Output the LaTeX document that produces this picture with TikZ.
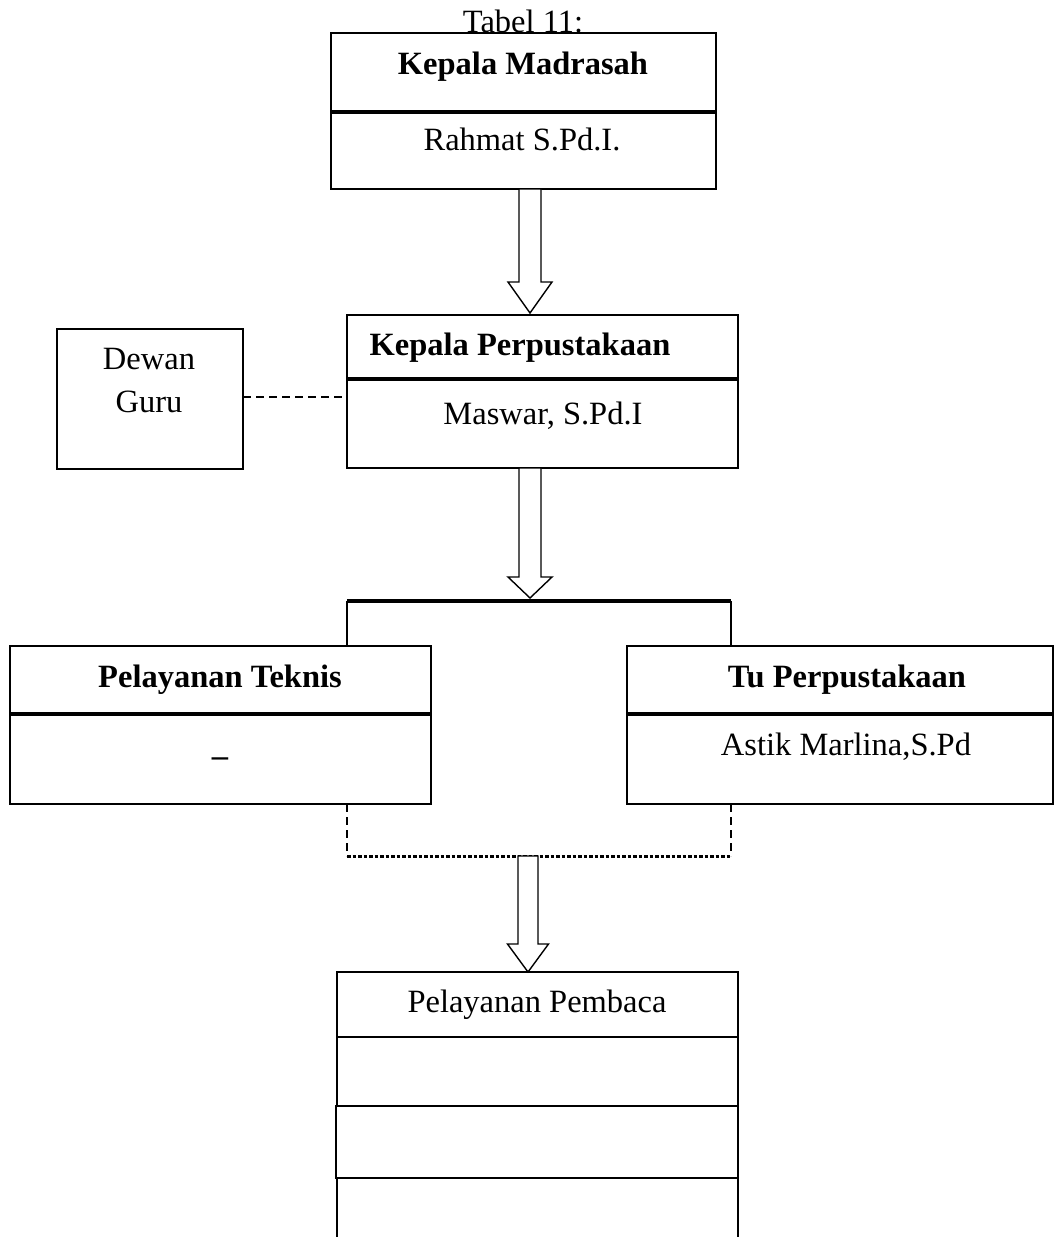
\documentclass[tikz,border=0pt]{standalone}
\usepackage{fontspec}
\setmainfont{Liberation Serif}
\usetikzlibrary{calc}
\tikzset{
  box/.style={draw, line width=1.4pt, rectangle, inner sep=0pt, outer sep=0pt, anchor=north west},
  divider/.style={line width=3.2pt},
  txt/.style={anchor=base, inner sep=0pt, font=\fontsize{32.5}{39}\selectfont},
  btxt/.style={txt, font=\fontsize{32.5}{39}\selectfont\bfseries},
  blk/.style={draw, line width=1.4pt, fill=white, line join=miter},
  link/.style={line width=1.4pt},
  dashlink/.style={line width=1.4pt, dash pattern=on 8pt off 5pt},
  dotlink/.style={line width=3pt, dash pattern=on 3.5pt off 2pt},
}
\newcommand{\blockarrow}[5]{% top, tip, shaft half, head half, head length
  \draw[blk] ([xshift=-#3pt]#1) -- ([xshift=-#3pt,yshift=#5pt]#2) -- ([xshift=-#4pt,yshift=#5pt]#2) -- (#2)
    -- ([xshift=#4pt,yshift=#5pt]#2) -- ([xshift=#3pt,yshift=#5pt]#2) -- ([xshift=#3pt]#1) -- cycle;}
\begin{document}
\begin{tikzpicture}[x=1pt,y=-1pt]
\useasboundingbox (0,0) rectangle (1055,1237);

% boxes
\node[box, minimum width=385pt, minimum height=156pt] (km) at (331,33) {};
\node[box, minimum width=391pt, minimum height=153pt] (kp) at (347,315) {};
\node[box, minimum width=186pt, minimum height=140pt] (dg) at (57,329) {};
\node[box, minimum width=421pt, minimum height=158pt] (pt) at (10,646) {};
\node[box, minimum width=426pt, minimum height=158pt] (tu) at (627,646) {};
\node[box, minimum width=401pt, minimum height=65pt] (r1) at (337,972) {};
\node[box, minimum width=401pt, minimum height=69pt] (r2) at (337,1037) {};
\node[box, minimum width=402pt, minimum height=72pt] (r3) at (336,1106) {};
\node[box, minimum width=401pt, minimum height=90pt] (r4) at (337,1178) {};

% dividers
\draw[divider] (km.west |- 0,112) -- (km.east |- 0,112);
\draw[divider] (kp.west |- 0,379) -- (kp.east |- 0,379);
\draw[divider] (pt.west |- 0,714) -- (pt.east |- 0,714);
\draw[divider] (tu.west |- 0,714) -- (tu.east |- 0,714);

% texts
\node[txt] (tab) at (523,32) {Tabel 11:};
\node[btxt] (kmt) at (523,74) {Kepala Madrasah};
\node[txt] (kmn) at (522,150) {Rahmat S.Pd.I.};
\node[btxt] (kpt) at (520,355) {Kepala Perpustakaan};
\node[txt] (kpn) at (543,424) {Maswar, S.Pd.I};
\node[txt] (dg1) at (149,369) {Dewan};
\node[txt] (dg2) at (149,412) {Guru};
\node[btxt] (ptt) at (220,687) {Pelayanan Teknis};
\node[btxt] (ptn) at (220,766) {–};
\node[btxt] (tut) at (847,687) {Tu Perpustakaan};
\node[txt] (tun) at (846,755) {Astik Marlina,S.Pd};
\node[txt] (ppt) at (537,1012) {Pelayanan Pembaca};

% Dewan Guru dashed link
\draw[dashlink] (dg.east |- 0,397) -- (kp.west |- 0,397);

% block arrow 1
\coordinate (t1) at (530,189);
\coordinate (h1) at (530,313);
\blockarrow{t1}{h1}{11}{22}{31}

% block arrow 2
\coordinate (t2) at (530,468);
\coordinate (h2) at (530,598);
\blockarrow{t2}{h2}{11}{22}{21}

% branch bar
\coordinate (bl) at (347,601);
\coordinate (br) at (731,601);
\draw[link] (bl) -- (bl |- pt.north);
\draw[link] (br) -- (br |- tu.north);
\draw[divider] (bl) -- (br);

% dashed/dotted join
\coordinate (dl) at (347,856);
\coordinate (dr) at (731,856);
\draw[dashlink] (dl |- pt.south) -- (dl);
\draw[dashlink] (dr |- tu.south) -- (dr);
\draw[dotlink] (dl) -- (dr);

% block arrow 3
\coordinate (t3) at (528,856);
\coordinate (h3) at (528,972);
\blockarrow{t3}{h3}{10}{20.5}{28}
\end{tikzpicture}
\end{document}
